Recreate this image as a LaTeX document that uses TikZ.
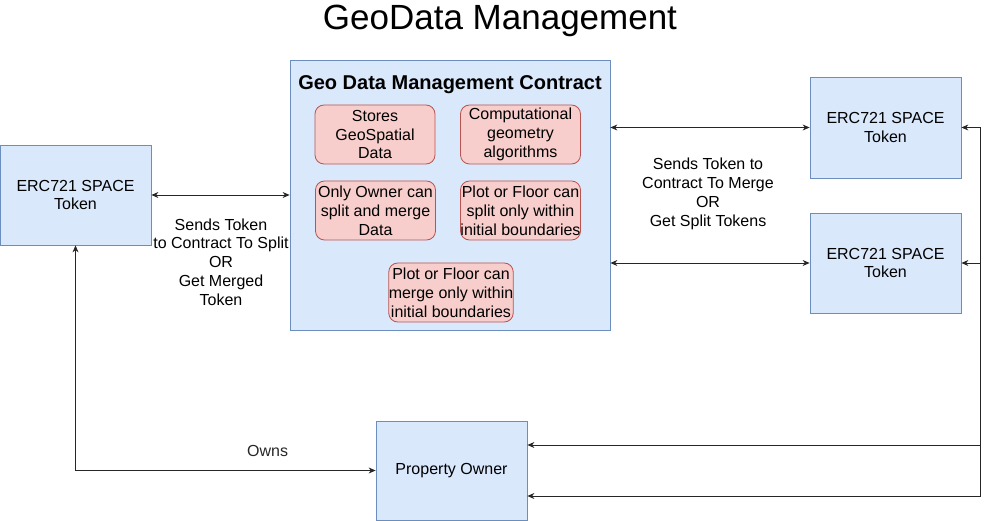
\documentclass[tikz,border=0pt]{standalone}
\usepackage{fontspec}
\setmainfont{Liberation Sans}
\usetikzlibrary{arrows.meta,positioning}
\definecolor{boxBlue}{HTML}{DAE8FC}
\definecolor{edgeBlue}{HTML}{6C8EBF}
\definecolor{boxRed}{HTML}{F8CECC}
\definecolor{edgeRed}{HTML}{B85450}
\begin{document}
\begin{tikzpicture}[x=1pt, y=-1pt,
		every node/.style={font=\fontsize{16}{18.8}\selectfont, align=center, inner sep=0pt},
		blueBox/.style={rectangle, draw=edgeBlue, fill=boxBlue, line width=0.8pt},
		redBox/.style={rectangle, rounded corners=9pt, draw=edgeRed, fill=boxRed, line width=0.8pt, minimum width=120pt, minimum height=59pt},
		link/.style={line width=0.8pt, black!85, {Stealth[length=7pt,width=6pt]}-{Stealth[length=7pt,width=6pt]}}]
			\useasboundingbox (0,0) rectangle (991,521);

			\node[font=\fontsize{35}{40}\selectfont](titleText) at (500,21){GeoData Management};

			\node[blueBox, minimum width=151pt, minimum height=100pt](tokenLeftBox) at (75.5,195){ERC721 SPACE\\Token};
			\node[blueBox, minimum width=320pt, minimum height=270pt](contractBox) at (450,195){};
			\node[font=\bfseries\fontsize{20}{22}\selectfont](contractTitle) at (450,85){Geo Data Management Contract};

			\node[redBox](storesBox) at (375,134.5){Stores\\GeoSpatial\\Data};
			\node[redBox](geometryBox) at (520.5,134.5){Computational\\geometry\\algorithms};
			\node[redBox](ownerOnlyBox) at (375.5,210.5){Only Owner can\\split and merge\\Data};
			\node[redBox](splitBox) at (520.5,210.5){Plot or Floor can\\split only within\\initial boundaries};
			\node[redBox](mergeBox) at (451,292.5){Plot or Floor can\\merge only within\\initial boundaries};

			\node[blueBox, minimum width=151pt, minimum height=101pt](tokenRight1Box) at (885.5,127.5){ERC721 SPACE\\Token};
			\node[blueBox, minimum width=151pt, minimum height=100pt](tokenRight2Box) at (885.5,263){ERC721 SPACE\\Token};
			\node[blueBox, minimum width=151pt, minimum height=99pt](ownerBox) at (451.5,470.5){Property Owner};

			\node(splitText) at (221,262){Sends Token\\to Contract To Split\\OR\\Get Merged\\Token};
			\node(mergeText) at (708,194){Sends Token to\\Contract To Merge\\OR\\Get Split Tokens};

			\coordinate(bend1) at (980,445);
			\coordinate(bend2) at (980,496);

			\draw[link] (tokenLeftBox) -- (contractBox);
			\draw[link] (tokenRight1Box.west -| contractBox.east) -- (tokenRight1Box.west);
			\draw[link] (tokenRight2Box.west -| contractBox.east) -- (tokenRight2Box.west);
			\draw[link] (tokenLeftBox.south) |- node[pos=0.82, above=13pt]{Owns} (ownerBox.west);
			\draw[link] (tokenRight1Box.east) -| (bend1) -- (bend1 -| ownerBox.east);
			\draw[link] (tokenRight2Box.east) -| (bend2) -- (bend2 -| ownerBox.east);
		\end{tikzpicture}
\end{document}
